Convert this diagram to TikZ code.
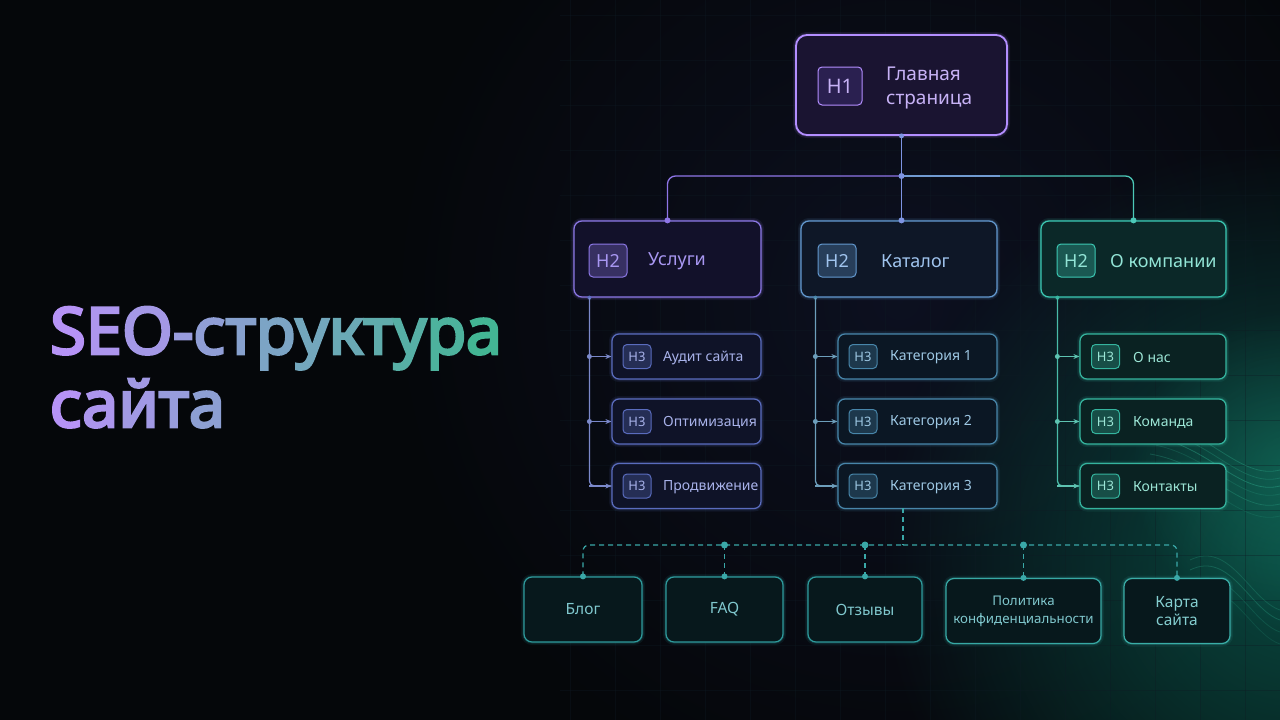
\documentclass[tikz,border=0pt]{standalone}
\usepackage{fontspec}
\setmainfont{Noto Sans}
\newfontfamily\titlefont{Noto Sans}[FakeBold=4]
\usetikzlibrary{arrows.meta,fadings,calc}
\definecolor{bg}{HTML}{05070A}
\definecolor{gridc}{HTML}{0E1B24}
\definecolor{tpurple}{HTML}{B693F6}
\definecolor{tteal}{HTML}{43B594}
\definecolor{h1b}{HTML}{B38EFF}
\definecolor{h1f}{HTML}{1A1431}
\definecolor{h1bf}{HTML}{2A2050}
\definecolor{h1t}{HTML}{C7B2F6}
\definecolor{c1b}{HTML}{8C78E6}
\definecolor{c1f}{HTML}{12112A}
\definecolor{c1t}{HTML}{A897F2}
\definecolor{c2b}{HTML}{6399D0}
\definecolor{c2f}{HTML}{0E1727}
\definecolor{c2t}{HTML}{A0C4EE}
\definecolor{c3b}{HTML}{3CC9B4}
\definecolor{c3f}{HTML}{0B2828}
\definecolor{c3t}{HTML}{92E4D6}
\definecolor{d1b}{HTML}{5A6CBE}
\definecolor{d1f}{HTML}{0F1328}
\definecolor{d1t}{HTML}{A8B2EA}
\definecolor{d2b}{HTML}{4886AA}
\definecolor{d2f}{HTML}{0B1724}
\definecolor{d2t}{HTML}{9EC8E4}
\definecolor{d3b}{HTML}{35B49E}
\definecolor{d3f}{HTML}{0A2222}
\definecolor{d3t}{HTML}{9CE6D6}
\definecolor{eb}{HTML}{2E9A9C}
\definecolor{ef}{HTML}{07181C}
\definecolor{et}{HTML}{80C8CE}
\definecolor{lp}{HTML}{8F76E8}
\definecolor{lm}{HTML}{7E94E2}
\definecolor{lt}{HTML}{4CC9B8}
\definecolor{dash}{HTML}{3AA8A8}
\tikzfading[name=softglow, inner color=transparent!0, outer color=transparent!100]
\newcommand{\gl}[2]{{\color{tteal!#1!tpurple}#2}}
\tikzset{
  gbox/.style n args={3}{draw=#1, fill=#2, line width=1.2pt, rounded corners=#3, inner sep=0pt,
    preaction={draw=#1, line width=6pt, opacity=.10},
    preaction={draw=#1, line width=3pt, opacity=.20}},
  badge/.style 2 args={draw=#1, fill=#2, line width=1pt, rounded corners=4pt, inner sep=0pt},
  lbl/.style={anchor=west, inner sep=0pt},
  dot/.style={circle, fill=#1, inner sep=0pt, minimum size=6pt},
  conn/.style={line width=1.3pt, rounded corners=8pt},
  tip/.style={-{Stealth[length=6pt,width=5pt]}},
  dsh/.style={draw=dash, line width=1.2pt, dash pattern=on 5pt off 4pt, rounded corners=6pt}
}
\begin{document}
\begin{tikzpicture}[x=1pt,y=-1pt]
\useasboundingbox (0,0) rectangle (1280,720);
\fill[bg] (0,0) rectangle (1280,720);
% background glows
\fill[color={rgb,255:red,14;green,18;blue,36}, path fading=softglow, opacity=.85] (900,300) circle (520);
\fill[color={rgb,255:red,10;green,80;blue,70}, path fading=softglow, opacity=.9] (1300,560) circle (420);
\fill[color={rgb,255:red,30;green,160;blue,130}, path fading=softglow, opacity=.35] (1290,470) circle (160);
% grid
\foreach \x in {570,615,...,1280} \draw[gridc, line width=.6pt, opacity=.35] (\x,0) -- (\x,720);
\foreach \y in {15,60,...,720} \draw[gridc, line width=.6pt, opacity=.35] (560,\y) -- (1280,\y);
% streaks
\foreach \d/\o in {0/.25,8/.2,16/.3,24/.15,34/.22,46/.12}
  \draw[color={rgb,255:red,60;green,210;blue,170}, line width=.8pt, opacity=\o]
    (1150,420+\d) .. controls (1210,430+\d) and (1240,480+\d) .. (1280,470+\d);
\foreach \d/\o in {0/.18,10/.22,22/.15,34/.12}
  \draw[color={rgb,255:red,60;green,210;blue,170}, line width=.8pt, opacity=\o]
    (1190,560+\d) .. controls (1230,540+\d) and (1250,600+\d) .. (1280,610+\d);

% title
\node[anchor=base west, inner sep=0pt, font=\titlefont\fontsize{65}{65}\selectfont] (t1) at (50,354)
  {\gl{0}{S}\gl{8}{E}\gl{16}{O}\gl{25}{-}\gl{33}{с}\gl{41}{т}\gl{50}{р}\gl{58}{у}\gl{66}{к}\gl{75}{т}\gl{83}{у}\gl{91}{р}\gl{100}{а}};
\node[anchor=base west, inner sep=0pt, font=\titlefont\fontsize{65}{65}\selectfont] (t2) at (50,427)
  {\gl{0}{с}\gl{9}{а}\gl{18}{й}\gl{27}{т}\gl{36}{а}};

% H1
\node[gbox={h1b}{h1f}{11pt}, line width=1.8pt, minimum width=211pt, minimum height=100pt] (h1) at (901.5,85) {};
\node[badge={h1b}{h1bf}, minimum width=44pt, minimum height=38pt, text=h1t, font=\fontsize{20}{22}\selectfont] (h1b) at (840,86) {H1};
\node[lbl, align=left, text=h1t, font=\fontsize{19}{24}\selectfont] (h1t) at (886,88) {Главная\\страница};

% H2 row
\node[gbox={c1b}{c1f}{8pt}, minimum width=187pt, minimum height=76pt] (usl) at (667.5,259) {};
\node[badge={c1b}{c1f!70!c1b}, minimum width=38pt, minimum height=33pt, text=c1t, font=\fontsize{18}{20}\selectfont] (uslb) at (608,260.5) {H2};
\node[lbl, text=c1t, font=\fontsize{18}{20}\selectfont] (uslt) at (648,261) {Услуги};

\node[gbox={c2b}{c2f}{8pt}, minimum width=196pt, minimum height=76pt] (kat) at (899,259) {};
\node[badge={c2b}{c2f!70!c2b}, minimum width=38pt, minimum height=33pt, text=c2t, font=\fontsize{18}{20}\selectfont] (katb) at (837,260.5) {H2};
\node[lbl, text=c2t, font=\fontsize{18}{20}\selectfont] (katt) at (881,261) {Каталог};

\node[gbox={c3b}{c3f}{8pt}, minimum width=185pt, minimum height=76pt] (kom) at (1133.5,259) {};
\node[badge={c3b}{c3f!70!c3b}, minimum width=38pt, minimum height=33pt, text=c3t, font=\fontsize{18}{20}\selectfont] (komb) at (1076,260.5) {H2};
\node[lbl, text=c3t, font=\fontsize{18}{20}\selectfont] (komt) at (1110,261) {О компании};

% H3 column 1
\foreach \n/\y/\t in {a1/356.5/Аудит сайта, a2/421.5/Оптимизация, a3/486/Продвижение}{
  \node[gbox={d1b}{d1f}{7pt}, minimum width=149pt, minimum height=45pt] (\n) at (686.5,\y) {};
  \node[badge={d1b}{d1f!70!d1b}, minimum width=28pt, minimum height=24pt, text=d1t, font=\fontsize{13}{15}\selectfont] (\n b) at (637,\y) {H3};
  \node[lbl, text=d1t, font=\fontsize{14}{16}\selectfont] (\n t) at (663,\y+1) {\t};
}
% H3 column 2
\foreach \n/\y/\t in {b1/356.5/Категория 1, b2/421.5/Категория 2, b3/486/Категория 3}{
  \node[gbox={d2b}{d2f}{7pt}, minimum width=159pt, minimum height=45pt] (\n) at (917.5,\y) {};
  \node[badge={d2b}{d2f!70!d2b}, minimum width=28pt, minimum height=24pt, text=d2t, font=\fontsize{13}{15}\selectfont] (\n b) at (863,\y) {H3};
  \node[lbl, text=d2t, font=\fontsize{14}{16}\selectfont] (\n t) at (890,\y+1) {\t};
}
% H3 column 3
\foreach \n/\y/\t in {c1/356.5/О нас, c2/421.5/Команда, c3/486/Контакты}{
  \node[gbox={d3b}{d3f}{7pt}, minimum width=146pt, minimum height=45pt] (\n) at (1153,\y) {};
  \node[badge={d3b}{d3f!70!d3b}, minimum width=28pt, minimum height=24pt, text=d3t, font=\fontsize{13}{15}\selectfont] (\n b) at (1105.5,\y) {H3};
  \node[lbl, text=d3t, font=\fontsize{14}{16}\selectfont] (\n t) at (1133,\y+1) {\t};
}

% bottom boxes
\node[gbox={eb}{ef}{8pt}, minimum width=118pt, minimum height=65pt, text=et, font=\fontsize{15.5}{18}\selectfont] (blog) at (583,609.5) {Блог};
\node[gbox={eb}{ef}{8pt}, minimum width=117pt, minimum height=65pt, text=et, font=\fontsize{15.5}{18}\selectfont] (faq) at (724.5,609.5) {FAQ};
\node[gbox={eb}{ef}{8pt}, minimum width=114pt, minimum height=65pt, text=et, font=\fontsize{15.5}{18}\selectfont] (otz) at (865,609.5) {Отзывы};
\node[gbox={eb!70!lt}{ef}{8pt}, minimum width=155pt, minimum height=65pt, text=et, align=center, font=\fontsize{13.3}{18}\selectfont] (pol) at (1023.5,611) {Политика\\конфиденциальности};
\node[gbox={eb!60!lt}{ef}{8pt}, minimum width=106pt, minimum height=65pt, text=et!80!c3t, align=center, font=\fontsize{15.5}{18}\selectfont] (kar) at (1177,611) {Карта\\сайта};

% top connectors
\coordinate (j) at (h1.south |- 0,176);
\coordinate (kn) at (h1.south |- kat.north);
\draw[conn, lm] (h1.south) -- (kn);
\draw[conn, lp] (j) -| (usl.north);
\draw[conn, lt] (j) -| (kom.north);
\draw[conn, lp!55!lt] (j) -- (1000,176);
\node[dot=lm] (jd) at (j) {};
\node[dot=lm, minimum size=5pt] (h1d) at (h1.south) {};
\node[dot=lp] (uslN) at (usl.north) {};
\node[dot=lm] (katN) at (kn) {};
\node[dot=lt] (komN) at (kom.north) {};

% trunks
\coordinate (tr1) at ($(usl.south west)+(16,0)$);
\coordinate (tr2) at ($(kat.south west)+(15,0)$);
\coordinate (tr3) at ($(kom.south west)+(17,0)$);
\node[dot=d1b, minimum size=4pt] (tr1d) at (tr1) {};
\node[dot=d2b, minimum size=4pt] (tr2d) at (tr2) {};
\node[dot=d3b, minimum size=4pt] (tr3d) at (tr3) {};
\draw[conn, d1b!80!white, rounded corners=5pt] (tr1) |- (a3.west);
\draw[conn, d2b!80!white, rounded corners=5pt] (tr2) |- (b3.west);
\draw[conn, d3b!90!white, rounded corners=5pt] (tr3) |- (c3.west);
\foreach \a/\c/\r in {a1/d1b/tr1, a2/d1b/tr1, a3/d1b/tr1, b1/d2b/tr2, b2/d2b/tr2, b3/d2b/tr2, c1/d3b/tr3, c2/d3b/tr3, c3/d3b/tr3}{
  \draw[line width=1.3pt, \c!80!white, tip] (\r |- \a.west) -- (\a.west);
}
\foreach \a/\c/\r in {a1/d1b/tr1, a2/d1b/tr1, b1/d2b/tr2, b2/d2b/tr2, c1/d3b/tr3, c2/d3b/tr3}{
  \node[dot=\c!80!white, minimum size=5pt] at (\r |- \a.west) {};
}

% dashed bus
\coordinate (ds) at (903,508);
\coordinate (dj) at (903,545);
\draw[dsh] (ds) -- (dj);
\draw[dsh] (blog.north) |- (dj);
\draw[dsh] (dj) -| (kar.north);
\draw[dsh] (faq.north |- dj) -- (faq.north);
\draw[dsh] (otz.north |- dj) -- (otz.north);
\draw[dsh] (pol.north |- dj) -- (pol.north);
\foreach \b in {blog,faq,otz,pol,kar} \node[dot=dash] at (\b.north) {};
\foreach \b in {faq,otz,pol} \node[dot=dash, minimum size=7pt] at (\b.north |- dj) {};
\end{tikzpicture}
\end{document}
